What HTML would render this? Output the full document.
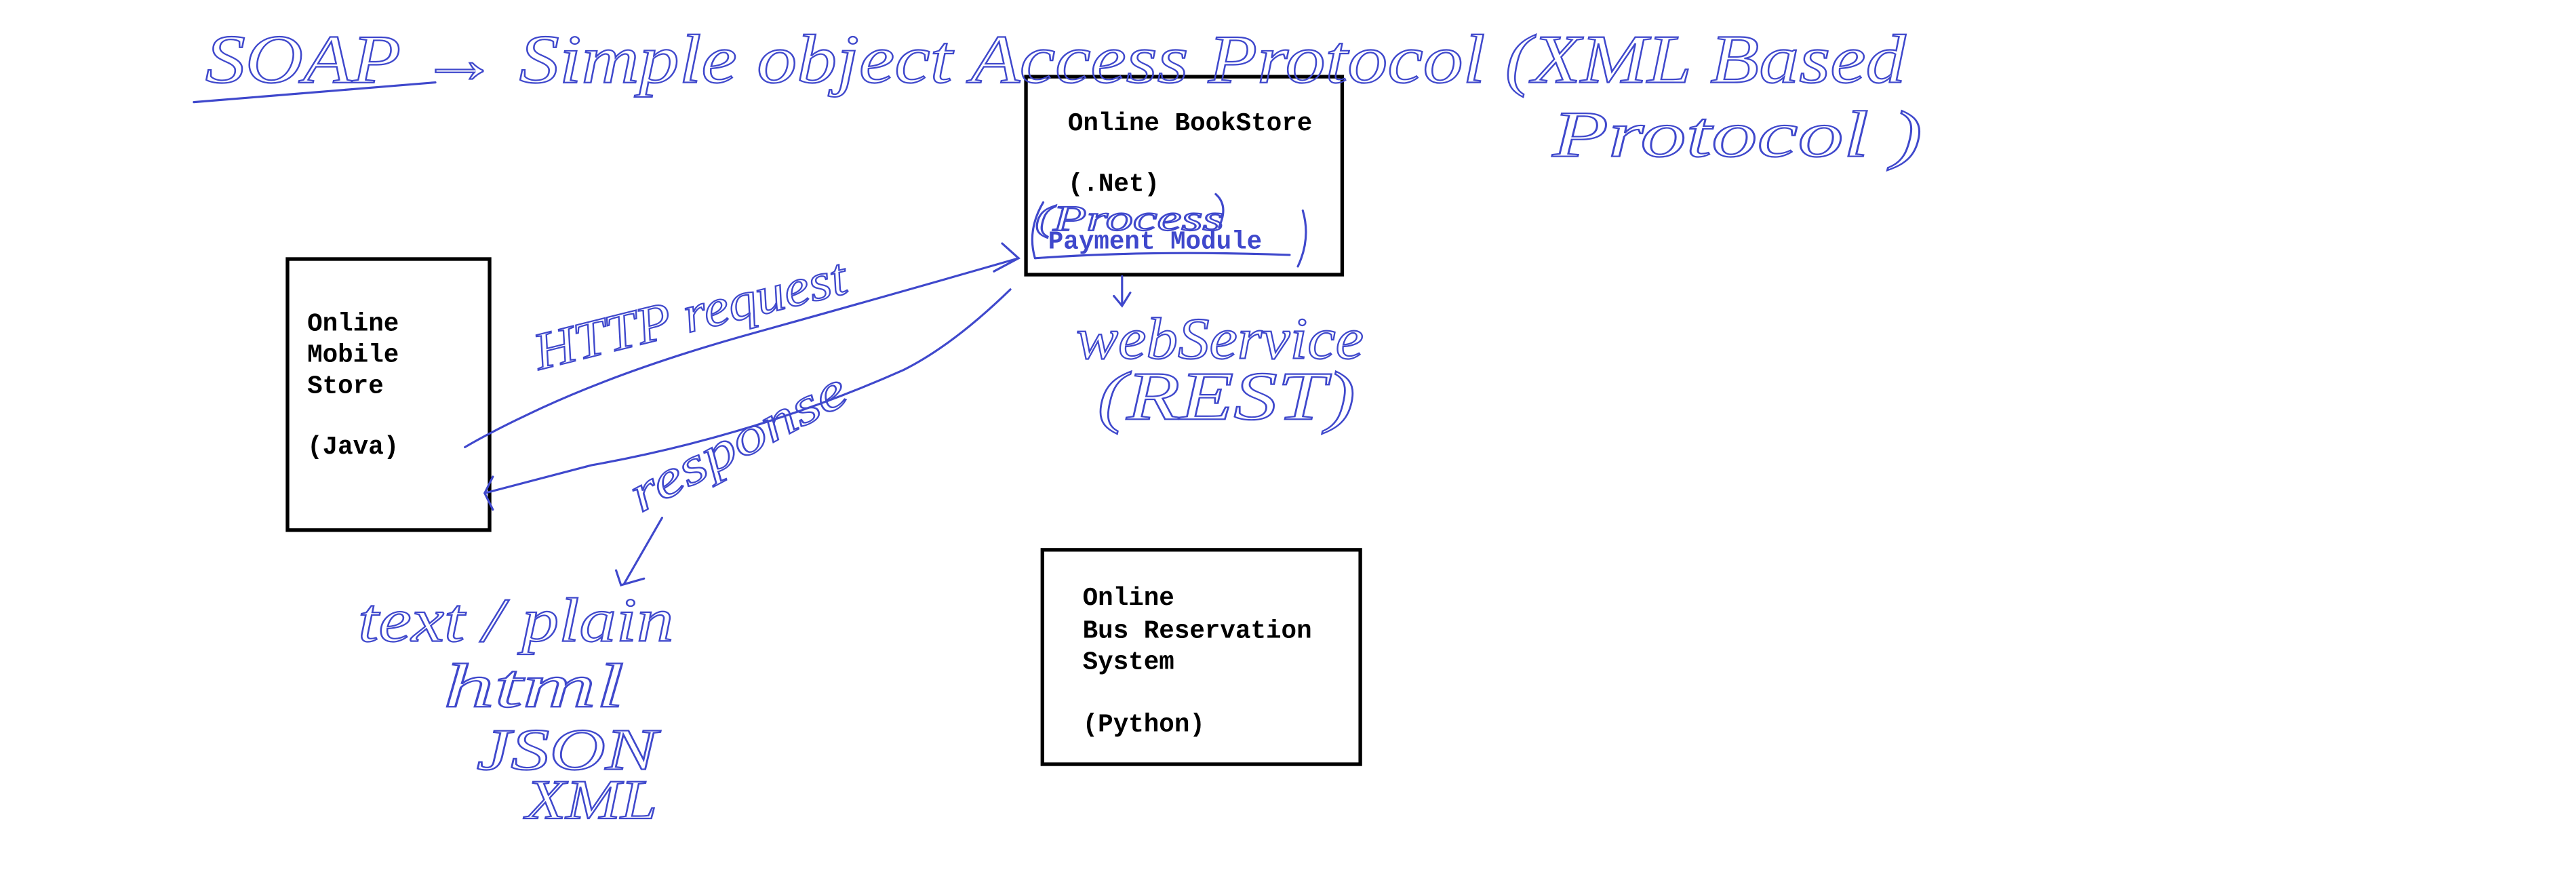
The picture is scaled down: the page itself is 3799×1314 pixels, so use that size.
<!DOCTYPE html>
<html><head><meta charset="utf-8"><style>
html,body{margin:0;padding:0;background:#fff;}
svg{display:block;}
.m{font-family:"Liberation Mono",monospace;font-weight:bold;font-size:15.5px;fill:#000;}
.h{font-family:"Liberation Serif",serif;font-style:italic;fill:none;stroke:#3f48cc;stroke-width:0.9;}
</style></head><body>
<svg width="3799" height="1314" viewBox="0 0 1568 542" xmlns="http://www.w3.org/2000/svg">
<rect width="1568" height="542" fill="#fff"/>
<g fill="none" stroke="#000" stroke-width="2.2">
<rect x="175" y="157.5" width="123" height="165"/>
<rect x="624.5" y="46.5" width="192.5" height="120.5"/>
<rect x="634.5" y="334.5" width="193.5" height="130.5"/>
</g>
<text class="m" x="187" y="201">Online</text>
<text class="m" x="187" y="220">Mobile</text>
<text class="m" x="187" y="239">Store</text>
<text class="m" x="187" y="276">(Java)</text>
<text class="m" x="650" y="79">Online BookStore</text>
<text class="m" x="650" y="116">(.Net)</text>
<text class="m" x="638" y="151" style="fill:#3f48cc">Payment Module</text>
<text class="m" x="659" y="368">Online</text>
<text class="m" x="659" y="388">Bus Reservation</text>
<text class="m" x="659" y="407">System</text>
<text class="m" x="659" y="445">(Python)</text>

<g fill="none" stroke="#3f48cc" stroke-width="1.3" stroke-linecap="round">
<path d="M118 62 Q190 56 265 50"/>
<path d="M283 272 Q300 262 330 248 Q380 225 450 205 Q540 180 620 157"/>
<path d="M605 165 L620 157 L610 148"/>
<path d="M615 176 Q580 210 550 225 Q460 265 360 283 L295 300"/>
<path d="M300 290 L295 300 L300 310"/>
<path d="M683 168 L683 185 M678 180 L683 186 L688 178"/>
<path d="M403 315 L380 355 M375 347 L378 356 L392 352"/>
<path d="M630 157 Q700 152 785 155 M635 123 Q625 140 630 157 M793 128 Q798 145 790 162"/>
<path d="M740 118 Q748 125 742 138"/>
</g>
<g class="h">
<text x="125" y="50" font-size="42" textLength="1035" lengthAdjust="spacingAndGlyphs">SOAP → Simple object Access Protocol (XML Based</text>
<text x="945" y="95" font-size="40" textLength="225" lengthAdjust="spacingAndGlyphs">Protocol )</text>
<text x="630" y="140" font-size="22" textLength="115" lengthAdjust="spacingAndGlyphs">(Process</text>
<text x="0" y="0" font-size="32" transform="translate(328 225) rotate(-14)" textLength="195" lengthAdjust="spacingAndGlyphs">HTTP request</text>
<text x="0" y="0" font-size="32" transform="translate(390 312) rotate(-28)" textLength="145" lengthAdjust="spacingAndGlyphs">response</text>
<text x="655" y="218" font-size="36" textLength="175" lengthAdjust="spacingAndGlyphs">webService</text>
<text x="668" y="255" font-size="42" textLength="157" lengthAdjust="spacingAndGlyphs">(REST)</text>
<text x="218" y="390" font-size="38" textLength="192" lengthAdjust="spacingAndGlyphs">text / plain</text>
<text x="270" y="430" font-size="38" textLength="110" lengthAdjust="spacingAndGlyphs">html</text>
<text x="290" y="468" font-size="36" textLength="110" lengthAdjust="spacingAndGlyphs">JSON</text>
<text x="320" y="498" font-size="34" textLength="80" lengthAdjust="spacingAndGlyphs">XML</text>
</g>
</svg>
</body></html>
